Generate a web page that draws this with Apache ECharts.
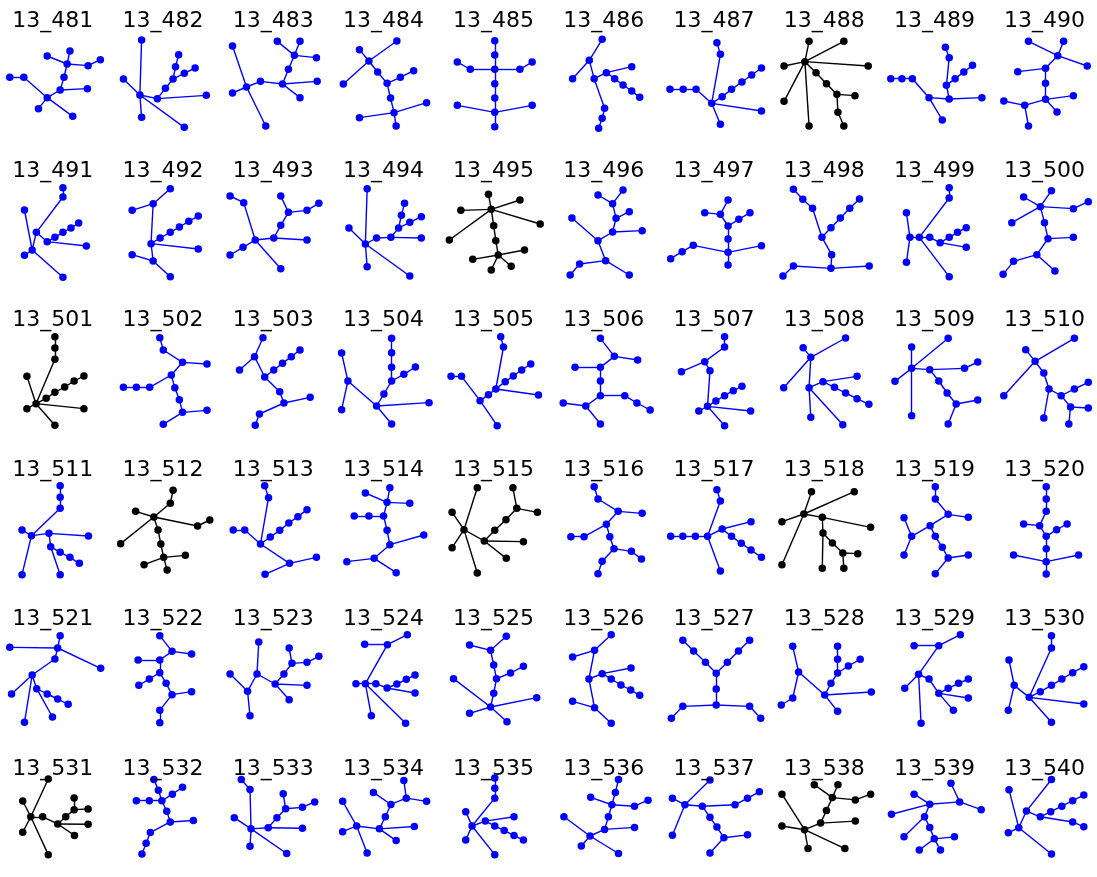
<!DOCTYPE html>
<html><head><meta charset="utf-8">
<script src="https://cdn.jsdelivr.net/npm/echarts@6.0.0/dist/echarts.min.js"></script>
<style>html,body{margin:0;padding:0;background:#fff}#c{width:1097px;height:877px}</style>
</head><body><div id="c"></div>
<script>
// Node positions (in half-row crop units) and edge lists (node index pairs)
const N481=[[28,232],[68,232],[135,293],[110,326],[208,349],[172,270],[250,266],[183,232],[192,192],[200,153],[135,168],[252,197],[287,179]];
const E481=[[0,1],[1,2],[2,3],[2,4],[2,5],[5,6],[5,7],[7,8],[8,9],[8,10],[8,11],[11,12]];
const N482=[[405,120],[400,285],[353,237],[405,352],[527,382],[450,296],[590,286],[473,265],[495,237],[502,200],[511,164],[527,220],[558,204]];
const E482=[[0,1],[1,2],[1,3],[1,4],[1,5],[5,6],[5,7],[7,8],[8,9],[9,10],[8,11],[11,12]];
const N483=[[665,138],[705,261],[665,279],[760,378],[745,244],[808,252],[907,244],[858,293],[825,208],[842,166],[793,124],[858,124],[905,173]];
const E483=[[0,1],[1,2],[1,3],[1,4],[4,5],[5,6],[5,7],[5,8],[8,9],[9,10],[9,11],[9,12]];
const N484=[[1135,123],[1055,183],[1028,149],[982,252],[1080,216],[1107,250],[1145,232],[1183,212],[1117,294],[1127,338],[1028,353],[1220,308],[1133,378]];
const E484=[[0,1],[1,2],[1,3],[1,4],[4,5],[5,6],[6,7],[5,8],[8,9],[9,10],[9,11],[9,12]];
const N485=[[1415,122],[1415,165],[1415,208],[1345,208],[1308,186],[1487,208],[1522,186],[1415,251],[1415,294],[1415,337],[1308,316],[1522,316],[1415,380]];
const E485=[[0,1],[1,2],[2,3],[3,4],[2,5],[5,6],[2,7],[7,8],[8,9],[9,10],[9,11],[9,12]];
const N486=[[150,118],[113,181],[65,236],[127,236],[162,218],[235,200],[186,236],[210,255],[235,273],[258,292],[157,325],[150,355],[140,385]];
const E486=[[0,1],[1,2],[1,3],[3,4],[4,5],[4,6],[6,7],[7,8],[8,9],[3,10],[10,11],[11,12]];
const N487=[[480,128],[490,163],[465,310],[420,268],[383,268],[345,268],[490,373],[608,333],[495,290],[522,268],[552,246],[580,225],[608,204]];
const E487=[[0,1],[1,2],[2,3],[3,4],[4,5],[2,6],[2,7],[2,8],[8,9],[9,10],[10,11],[11,12]];
const N488=[[733,185],[745,124],[845,124],[915,198],[673,198],[673,304],[745,378],[765,218],[795,251],[825,283],[877,287],[828,337],[845,378]];
const E488=[[0,1],[0,2],[0,3],[0,4],[0,5],[0,6],[0,7],[7,8],[8,9],[9,10],[9,11],[11,12]];
const N489=[[980,236],[1012,236],[1042,236],[1090,293],[1128,360],[1148,297],[1242,293],[1140,256],[1165,236],[1190,216],[1215,196],[1148,173],[1137,142]];
const E489=[[0,1],[1,2],[2,3],[3,4],[3,5],[5,6],[5,7],[7,8],[8,9],[9,10],[7,11],[11,12]];
const N490=[[1376,124],[1460,167],[1477,124],[1545,198],[1425,205],[1345,215],[1425,250],[1425,298],[1505,287],[1458,336],[1365,316],[1305,303],[1376,378]];
const E490=[[0,1],[1,2],[1,3],[1,4],[4,5],[4,6],[6,7],[7,8],[7,9],[7,10],[10,11],[10,12]];
const N491=[[180,113],[180,141],[104,247],[70,180],[92,300],[70,316],[180,382],[135,275],[157,262],[180,247],[203,234],[225,219],[247,288]];
const E491=[[0,1],[1,2],[2,4],[3,4],[4,5],[4,6],[2,7],[7,8],[8,9],[9,10],[10,11],[7,12]];
const N492=[[487,116],[438,161],[378,181],[432,281],[458,264],[487,247],[513,231],[540,214],[567,198],[567,297],[438,333],[378,314],[487,380]];
const E492=[[0,1],[1,2],[1,3],[3,4],[4,5],[5,6],[6,7],[7,8],[3,9],[3,10],[10,11],[10,12]];
const N493=[[658,138],[697,158],[730,270],[695,292],[658,315],[803,356],[783,264],[878,270],[803,226],[825,187],[803,138],[878,181],[912,160]];
const E493=[[0,1],[1,2],[2,3],[3,4],[2,5],[2,6],[6,7],[6,8],[8,9],[9,10],[9,11],[11,12]];
const N494=[[1050,116],[1045,282],[998,234],[1050,350],[1172,378],[1077,264],[1118,262],[1205,264],[1140,234],[1148,196],[1157,160],[1172,217],[1205,200]];
const E494=[[0,1],[1,2],[1,3],[1,4],[1,5],[5,6],[6,7],[6,8],[8,9],[9,10],[8,11],[11,12]];
const N495=[[1405,178],[1397,133],[1487,150],[1318,181],[1545,222],[1285,270],[1412,227],[1418,272],[1425,315],[1500,300],[1352,328],[1405,360],[1462,349]];
const E495=[[0,1],[0,2],[0,3],[0,4],[0,5],[0,6],[6,7],[7,8],[8,9],[8,10],[8,11],[8,12]];
const N496=[[210,120],[138,135],[180,161],[190,205],[228,185],[180,246],[265,242],[138,272],[63,204],[160,332],[85,342],[58,375],[228,375]];
const E496=[[0,2],[1,2],[2,3],[3,4],[3,5],[5,6],[5,7],[7,8],[7,9],[9,10],[10,11],[9,12]];
const N497=[[512,150],[490,193],[445,188],[575,188],[543,208],[512,228],[512,267],[512,307],[412,286],[380,305],[347,326],[608,287],[512,345]];
const E497=[[0,1],[1,2],[1,5],[5,4],[4,3],[5,6],[6,7],[7,8],[8,9],[9,10],[7,11],[7,12]];
const N498=[[700,118],[727,148],[755,175],[782,262],[808,233],[835,204],[862,175],[890,147],[810,314],[808,355],[700,348],[670,378],[918,348]];
const E498=[[0,1],[1,2],[2,3],[3,4],[4,5],[5,6],[6,7],[3,8],[8,9],[9,10],[10,11],[9,12]];
const N499=[[1148,113],[1148,144],[1062,262],[1035,262],[1025,188],[1025,337],[1148,380],[1092,262],[1122,278],[1148,262],[1172,247],[1197,233],[1197,292]];
const E499=[[0,1],[1,2],[2,3],[3,4],[3,5],[2,6],[2,7],[7,8],[8,9],[9,10],[10,11],[8,12]];
const N500=[[1442,122],[1362,141],[1410,170],[1328,218],[1505,176],[1548,155],[1422,218],[1432,266],[1505,262],[1400,314],[1452,363],[1333,334],[1303,373]];
const E500=[[0,2],[1,2],[2,3],[2,4],[4,5],[2,6],[6,7],[7,8],[7,9],[9,10],[9,11],[11,12]];
const N501=[[157,113],[157,147],[157,181],[103,314],[77,232],[77,329],[240,329],[157,379],[132,298],[157,280],[185,264],[212,246],[240,231]];
const E501=[[0,1],[1,2],[2,3],[3,4],[3,5],[3,6],[3,7],[3,8],[8,9],[9,10],[10,11],[11,12]];
const N502=[[457,116],[467,153],[522,190],[592,195],[490,228],[428,265],[390,265],[353,265],[500,266],[513,302],[522,340],[592,334],[467,376]];
const E502=[[0,1],[1,2],[2,3],[2,4],[4,5],[5,6],[6,7],[4,8],[8,9],[9,10],[10,11],[10,12]];
const N503=[[752,116],[728,173],[685,213],[757,234],[783,213],[808,193],[833,173],[858,153],[800,278],[812,312],[887,295],[742,345],[730,379]];
const E503=[[0,1],[1,2],[1,3],[3,4],[4,5],[5,6],[6,7],[3,8],[8,9],[9,10],[9,11],[11,12]];
const N504=[[1120,118],[1120,161],[1120,205],[1188,204],[1155,226],[1120,246],[1098,285],[1077,321],[995,246],[977,162],[977,332],[1227,311],[1120,375]];
const E504=[[0,1],[1,2],[2,5],[3,4],[4,5],[5,6],[6,7],[7,8],[8,9],[8,10],[7,11],[7,12]];
const N505=[[1432,113],[1440,144],[1418,270],[1445,248],[1468,231],[1492,213],[1518,195],[1540,288],[1397,287],[1373,305],[1320,232],[1290,232],[1422,380]];
const E505=[[0,1],[1,2],[2,3],[3,4],[4,5],[5,6],[2,7],[2,8],[8,9],[9,10],[10,11],[9,12]];
const N506=[[145,118],[185,172],[252,183],[145,205],[72,205],[145,246],[145,290],[215,290],[250,312],[288,333],[103,321],[38,312],[145,375]];
const E506=[[0,1],[1,2],[1,3],[3,4],[3,5],[5,6],[6,7],[7,8],[8,9],[6,10],[10,11],[10,12]];
const N507=[[502,113],[502,144],[445,188],[378,218],[460,215],[453,322],[428,336],[502,380],[577,336],[477,306],[502,290],[527,275],[552,262]];
const E507=[[0,1],[1,2],[2,3],[2,4],[4,5],[5,6],[5,7],[5,8],[5,9],[9,10],[10,11],[11,12]];
const N508=[[850,117],[750,175],[728,146],[672,266],[745,266],[750,355],[842,377],[785,248],[883,232],[818,265],[850,282],[883,299],[917,316]];
const E508=[[0,1],[1,2],[1,3],[1,4],[4,5],[4,6],[4,7],[7,8],[7,9],[9,10],[10,11],[11,12]];
const N509=[[1145,118],[1040,208],[1040,144],[992,247],[1040,350],[1092,212],[1192,208],[1230,189],[1118,246],[1142,282],[1168,315],[1230,303],[1145,375]];
const E509=[[0,1],[1,2],[1,3],[1,4],[1,5],[5,6],[6,7],[5,8],[8,9],[9,10],[10,11],[10,12]];
const N510=[[1508,118],[1395,187],[1368,152],[1305,290],[1420,222],[1435,270],[1470,290],[1508,270],[1548,250],[1497,324],[1548,327],[1420,357],[1492,375]];
const E510=[[0,1],[1,2],[1,3],[1,4],[4,5],[5,6],[6,7],[7,8],[6,9],[9,10],[5,11],[9,12]];
const N511=[[172,110],[172,145],[172,178],[90,260],[63,243],[63,377],[140,253],[253,261],[145,293],[172,310],[200,325],[227,343],[172,377]];
const E511=[[0,1],[1,2],[2,3],[3,4],[3,5],[3,6],[6,7],[6,8],[8,9],[9,10],[10,11],[8,12]];
const N512=[[495,124],[487,163],[440,204],[388,187],[345,284],[565,231],[600,213],[452,243],[460,285],[468,325],[530,319],[412,347],[478,363]];
const E512=[[0,1],[1,2],[2,3],[2,4],[2,5],[5,6],[2,7],[7,8],[8,9],[9,10],[9,11],[9,12]];
const N513=[[757,110],[768,146],[745,285],[700,243],[667,243],[773,264],[800,244],[826,222],[852,203],[878,182],[828,343],[905,325],[758,376]];
const E513=[[0,1],[1,2],[2,3],[3,4],[2,5],[5,6],[6,7],[7,8],[8,9],[2,10],[10,11],[10,12]];
const N514=[[1115,116],[1045,132],[1107,160],[1172,163],[1097,201],[1055,201],[1013,201],[1107,244],[1115,287],[1212,258],[1070,328],[992,338],[1133,371]];
const E514=[[0,2],[1,2],[2,3],[2,4],[4,5],[5,6],[4,7],[7,8],[8,9],[8,10],[10,11],[10,12]];
const N515=[[1365,116],[1327,242],[1293,190],[1293,296],[1365,372],[1385,276],[1497,278],[1448,328],[1415,244],[1447,212],[1478,178],[1467,116],[1537,190]];
const E515=[[0,1],[1,2],[1,3],[1,4],[1,5],[5,6],[5,7],[5,8],[8,9],[9,10],[10,11],[10,12]];
const N516=[[127,113],[138,150],[196,187],[265,193],[162,226],[98,263],[60,263],[172,263],[184,299],[234,307],[263,330],[150,337],[138,374]];
const E516=[[0,1],[1,2],[2,3],[2,4],[4,5],[5,6],[4,7],[7,8],[8,9],[9,10],[8,11],[11,12]];
const N517=[[480,122],[490,156],[453,262],[418,262],[382,262],[347,262],[490,366],[495,240],[578,218],[522,262],[550,283],[578,303],[608,325]];
const E517=[[0,1],[1,2],[2,3],[3,4],[4,5],[2,6],[2,7],[7,8],[7,9],[9,10],[10,11],[11,12]];
const N518=[[730,195],[752,128],[875,128],[667,218],[667,347],[783,205],[922,235],[785,252],[812,282],[842,312],[885,314],[783,358],[845,358]];
const E518=[[0,1],[0,2],[0,3],[0,4],[0,5],[5,6],[5,7],[7,8],[8,9],[9,10],[7,11],[9,12]];
const N519=[[1108,113],[1108,150],[1145,196],[1203,205],[1093,230],[1040,262],[1018,206],[1018,318],[1108,262],[1128,295],[1145,327],[1203,318],[1108,374]];
const E519=[[0,1],[1,2],[2,3],[2,4],[4,5],[5,6],[5,7],[4,8],[8,9],[9,10],[10,11],[10,12]];
const N520=[[1427,113],[1427,150],[1427,187],[1408,230],[1362,225],[1427,262],[1457,242],[1487,225],[1427,299],[1427,338],[1333,318],[1520,318],[1427,375]];
const E520=[[0,1],[1,2],[2,3],[3,4],[3,5],[5,6],[6,7],[5,8],[8,9],[9,10],[9,11],[9,12]];
const N521=[[172,113],[165,150],[28,148],[288,211],[157,183],[92,231],[33,288],[70,373],[105,272],[135,288],[165,303],[195,319],[150,357]];
const E521=[[0,1],[1,2],[1,3],[1,4],[4,5],[5,6],[5,7],[5,8],[8,9],[9,10],[10,11],[8,12]];
const N522=[[457,113],[492,160],[548,168],[457,186],[395,186],[457,224],[427,243],[397,262],[475,256],[492,290],[548,281],[457,337],[457,374]];
const E522=[[0,1],[1,2],[1,3],[3,4],[3,5],[5,6],[6,7],[5,8],[8,9],[9,10],[9,11],[11,12]];
const N523=[[740,132],[735,228],[658,228],[708,280],[715,353],[787,258],[878,262],[827,305],[812,228],[835,196],[827,150],[878,193],[912,175]];
const E523=[[0,1],[1,3],[2,3],[3,4],[1,5],[5,6],[5,7],[5,8],[8,9],[9,10],[9,11],[11,12]];
const N524=[[1165,110],[1108,140],[1043,139],[1045,257],[1018,257],[1062,353],[1160,376],[1075,257],[1107,270],[1187,285],[1135,258],[1162,244],[1187,231]];
const E524=[[0,1],[1,2],[1,3],[3,4],[3,5],[3,6],[3,7],[7,8],[8,9],[8,10],[10,11],[11,12]];
const N525=[[1448,115],[1403,157],[1343,141],[1412,201],[1420,242],[1460,225],[1497,205],[1412,286],[1403,327],[1297,242],[1343,346],[1535,299],[1450,371]];
const E525=[[0,1],[1,2],[1,3],[3,4],[4,5],[5,6],[4,7],[7,8],[8,9],[8,10],[8,11],[8,12]];
const N526=[[176,110],[128,157],[65,177],[112,243],[150,227],[233,210],[176,243],[204,261],[232,276],[258,292],[128,329],[65,310],[176,376]];
const E526=[[0,1],[1,2],[1,3],[3,4],[4,5],[4,6],[6,7],[7,8],[8,9],[3,10],[10,11],[10,12]];
const N527=[[382,127],[413,159],[447,193],[478,226],[510,193],[542,159],[574,127],[478,273],[478,321],[382,325],[349,361],[574,325],[606,361]];
const E527=[[0,1],[1,2],[2,3],[3,4],[4,5],[5,6],[3,7],[7,8],[8,9],[9,10],[8,11],[11,12]];
const N528=[[698,145],[715,222],[698,300],[665,321],[790,291],[808,256],[827,225],[827,184],[827,145],[858,204],[892,184],[924,282],[827,340]];
const E528=[[0,1],[1,2],[2,3],[1,4],[4,5],[5,6],[6,7],[7,8],[6,9],[9,10],[4,11],[4,12]];
const N529=[[1180,110],[1118,143],[1047,143],[1060,229],[1020,271],[1067,376],[1090,243],[1118,286],[1145,271],[1175,256],[1203,243],[1203,300],[1160,337]];
const E529=[[0,1],[1,2],[1,3],[3,4],[3,5],[3,6],[6,7],[7,8],[8,9],[9,10],[7,11],[7,12]];
const N530=[[1442,113],[1442,150],[1378,298],[1335,262],[1320,186],[1318,337],[1410,281],[1442,262],[1472,243],[1503,224],[1535,206],[1535,318],[1442,373]];
const E530=[[0,1],[1,2],[2,3],[3,4],[3,5],[2,6],[6,7],[7,8],[8,9],[9,10],[2,11],[2,12]];
const N531=[[138,108],[88,240],[65,185],[65,294],[138,372],[122,240],[165,265],[188,240],[212,215],[212,174],[252,213],[252,266],[213,305]];
const E531=[[0,1],[1,2],[1,3],[1,4],[1,5],[5,6],[6,7],[7,8],[8,9],[8,10],[6,11],[6,12]];
const N532=[[440,110],[453,147],[463,184],[427,184],[390,184],[493,161],[522,137],[477,221],[487,258],[553,253],[430,295],[418,332],[406,370]];
const E532=[[0,1],[1,2],[2,3],[3,4],[2,5],[5,6],[2,7],[7,8],[8,9],[8,10],[10,11],[11,12]];
const N533=[[690,110],[715,145],[718,282],[670,243],[715,343],[820,368],[767,278],[865,280],[792,243],[817,212],[810,160],[865,207],[900,188]];
const E533=[[0,1],[1,2],[2,3],[2,4],[2,5],[2,6],[6,7],[6,8],[8,9],[9,10],[9,11],[11,12]];
const N534=[[1155,113],[1162,175],[1220,186],[1118,197],[1068,155],[1102,240],[1085,282],[1185,274],[1133,323],[1020,272],[980,186],[980,292],[1050,366]];
const E534=[[0,1],[1,2],[1,3],[3,4],[3,5],[5,6],[6,7],[6,8],[6,9],[9,10],[9,11],[9,12]];
const N535=[[1415,105],[1415,140],[1415,175],[1350,272],[1332,222],[1332,321],[1415,372],[1388,255],[1470,240],[1415,272],[1442,288],[1470,305],[1497,321]];
const E535=[[0,1],[1,2],[2,3],[3,4],[3,5],[3,6],[3,7],[7,8],[7,9],[9,10],[10,11],[11,12]];
const N536=[[197,110],[188,155],[178,198],[117,172],[243,203],[282,182],[168,240],[157,284],[243,277],[115,307],[40,240],[90,342],[197,368]];
const E536=[[0,1],[1,2],[2,3],[2,4],[4,5],[2,6],[6,7],[7,8],[7,9],[9,10],[9,11],[9,12]];
const N537=[[460,112],[388,198],[352,175],[352,304],[438,203],[532,198],[568,175],[602,153],[460,242],[480,276],[500,313],[568,303],[460,366]];
const E537=[[0,1],[1,2],[1,3],[1,4],[4,5],[5,6],[6,7],[4,8],[8,9],[9,10],[10,11],[10,12]];
const N538=[[760,128],[828,128],[812,173],[878,181],[922,161],[795,218],[778,262],[878,255],[732,285],[667,161],[667,272],[742,351],[848,351]];
const E538=[[0,2],[1,2],[2,3],[3,4],[2,5],[5,6],[6,7],[6,8],[8,9],[8,10],[8,11],[8,12]];
const N539=[[1153,123],[1178,188],[1240,215],[1092,196],[1047,161],[982,231],[1077,240],[1018,310],[1092,277],[1105,317],[1163,310],[1062,356],[1123,356]];
const E539=[[0,1],[1,2],[1,3],[3,4],[3,5],[3,6],[6,7],[6,8],[8,9],[9,10],[9,11],[9,12]];
const N540=[[1442,110],[1370,220],[1320,146],[1348,278],[1318,296],[1442,370],[1410,240],[1440,222],[1472,203],[1503,184],[1535,164],[1503,258],[1535,275]];
const E540=[[0,1],[1,3],[2,3],[3,4],[3,5],[1,6],[6,7],[7,8],[8,9],[9,10],[6,11],[11,12]];

const titles=['13_481','13_482','13_483','13_484','13_485','13_486','13_487','13_488','13_489','13_490',
'13_491','13_492','13_493','13_494','13_495','13_496','13_497','13_498','13_499','13_500',
'13_501','13_502','13_503','13_504','13_505','13_506','13_507','13_508','13_509','13_510',
'13_511','13_512','13_513','13_514','13_515','13_516','13_517','13_518','13_519','13_520',
'13_521','13_522','13_523','13_524','13_525','13_526','13_527','13_528','13_529','13_530',
'13_531','13_532','13_533','13_534','13_535','13_536','13_537','13_538','13_539','13_540'];
const blackGraphs=['13_488','13_495','13_501','13_512','13_515','13_518','13_531','13_538'];

const graphs=[[N481,E481],[N482,E482],[N483,E483],[N484,E484],[N485,E485],[N486,E486],[N487,E487],[N488,E488],[N489,E489],[N490,E490],
[N491,E491],[N492,E492],[N493,E493],[N494,E494],[N495,E495],[N496,E496],[N497,E497],[N498,E498],[N499,E499],[N500,E500],
[N501,E501],[N502,E502],[N503,E503],[N504,E504],[N505,E505],[N506,E506],[N507,E507],[N508,E508],[N509,E509],[N510,E510],
[N511,E511],[N512,E512],[N513,E513],[N514,E514],[N515,E515],[N516,E516],[N517,E517],[N518,E518],[N519,E519],[N520,E520],
[N521,E521],[N522,E522],[N523,E523],[N524,E524],[N525,E525],[N526,E526],[N527,E527],[N528,E528],[N529,E529],[N530,E530],
[N531,E531],[N532,E532],[N533,E533],[N534,E534],[N535,E535],[N536,E536],[N537,E537],[N538,E538],[N539,E539],[N540,E540]];

// layout
const rowTop=[0,150,299,449,598,748];
const SX=2.86, SY=3.0;
const grid=[], xAxis=[], yAxis=[];
for(let r=0;r<6;r++){for(let h=0;h<2;h++){
  const g=grid.length;
  grid.push({left:h*550,top:rowTop[r],width:550,height:150,containLabel:false});
  xAxis.push({type:'value',gridIndex:g,min:0,max:550*SX,show:false});
  yAxis.push({type:'value',gridIndex:g,min:0,max:150*SY,inverse:true,show:false});
}}
const title=titles.map((t,i)=>({
  text:t,left:52.8+(i%10)*110.2,top:rowTop[Math.floor(i/10)]+10,textAlign:'center',padding:0,
  textStyle:{fontFamily:'DejaVu Sans',fontSize:22,fontWeight:'normal',color:'#000'}
}));
const series=graphs.map(([nodes,edges],i)=>{
  const r=Math.floor(i/10), c=i%10, g=r*2+Math.floor(c/5);
  const col=blackGraphs.includes(titles[i])?'#000000':'#0000ff';
  return {type:'graph',coordinateSystem:'cartesian2d',xAxisIndex:g,yAxisIndex:g,layout:'none',
    symbol:'circle',symbolSize:7.5,silent:true,animation:false,
    data:nodes.map(p=>({value:p})),
    links:edges.map(e=>({source:e[0],target:e[1]})),
    itemStyle:{color:col,opacity:1},
    lineStyle:{color:col,width:1.4,opacity:1,curveness:0},
    label:{show:false},emphasis:{disabled:true}};
});
const chart=echarts.init(document.getElementById('c'),null,{renderer:'canvas'});
chart.setOption({animation:false,backgroundColor:'#fff',title,grid,xAxis,yAxis,series});
</script></body></html>
